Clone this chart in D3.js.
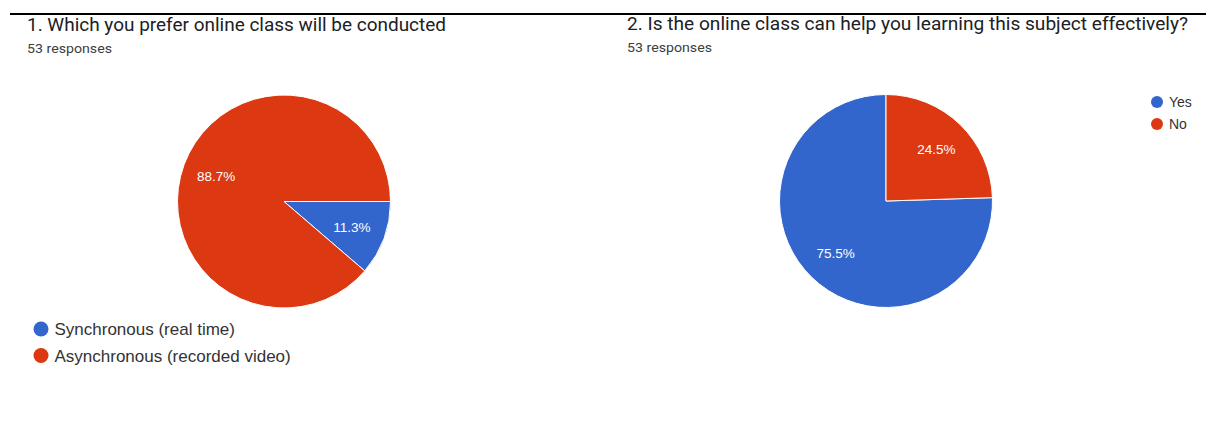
<!DOCTYPE html>
<html>
<head>
<meta charset="utf-8">
<script src="https://cdn.jsdelivr.net/npm/d3@7"></script>
<style>
  html, body { margin: 0; padding: 0; background: #fff; }
  svg { display: block; }
</style>
</head>
<body>
<svg id="chart" width="1206" height="426"></svg>
<script>
// Survey results: two questions, 53 responses each
const q1Title = "1. Which you prefer online class will be conducted";
const q1Categories = ["Synchronous (real time)", "Asynchronous (recorded video)"];
const q1Values = [11.3, 88.7];

const q2Title = "2. Is the online class can help you learning this subject effectively?";
const q2Categories = ["Yes", "No"];
const q2Values = [75.5, 24.5];

const responseCounts = [53, 53];
const sliceColors = ["#3366cc", "#dc3912"];

const svg = d3.select("#chart");

// top rule
svg.append("rect").attr("x", 10).attr("y", 13).attr("width", 1196).attr("height", 2).attr("fill", "#000");

function header(x, yTitle, title, titleWidth, count) {
  svg.append("text")
    .attr("x", x).attr("y", yTitle)
    .attr("font-family", "Roboto, 'Open Sans', sans-serif")
    .attr("font-size", 17.5)
    .attr("fill", "#202124")
    .attr("textLength", titleWidth)
    .attr("lengthAdjust", "spacingAndGlyphs")
    .text(title);
  svg.append("text")
    .attr("x", x).attr("y", yTitle + 22)
    .attr("font-family", "Roboto, sans-serif")
    .attr("font-size", 13.5)
    .attr("fill", "#3c4043")
    .attr("textLength", 85)
    .attr("lengthAdjust", "spacingAndGlyphs")
    .text(count + " responses");
}

function pieChart(cx, cy, r, values, startFrac) {
  const start = startFrac * 2 * Math.PI;
  const pie = d3.pie().sort(null).value(d => d)
    .startAngle(start).endAngle(start + 2 * Math.PI);
  const arcs = pie(values);
  const arc = d3.arc().innerRadius(0).outerRadius(r);
  const labelArc = d3.arc().innerRadius(r * 0.68).outerRadius(r * 0.68);
  const g = svg.append("g").attr("transform", `translate(${cx},${cy})`);
  g.selectAll("path").data(arcs).join("path")
    .attr("d", arc)
    .attr("fill", (d, i) => sliceColors[i])
    .attr("stroke", "#fff")
    .attr("stroke-width", 1);
  g.selectAll("text").data(arcs).join("text")
    .attr("transform", d => `translate(${labelArc.centroid(d)})`)
    .attr("text-anchor", "middle")
    .attr("dy", "0.36em")
    .attr("font-family", "'Liberation Sans', Arial, sans-serif")
    .attr("font-size", 13.5)
    .attr("fill", "#fff")
    .text(d => d.data.toFixed(1) + "%");
}

function legend(x, y, step, radius, fontSize, categories) {
  const g = svg.append("g");
  categories.forEach((c, i) => {
    g.append("circle")
      .attr("cx", x).attr("cy", y + i * step).attr("r", radius)
      .attr("fill", sliceColors[i]);
    g.append("text")
      .attr("x", x + radius + 6).attr("y", y + i * step)
      .attr("dy", "0.36em")
      .attr("font-family", "'Liberation Sans', Arial, sans-serif")
      .attr("font-size", fontSize)
      .attr("fill", "#333")
      .text(c);
  });
}

// Question 1
header(27, 31, q1Title, 419, responseCounts[0]);
pieChart(284, 201.5, 106.5, q1Values, 0.25);
legend(41, 329, 26.5, 7.5, 17, q1Categories);

// Question 2
header(627, 30, q2Title, 561, responseCounts[1]);
pieChart(886, 201, 106.5, q2Values, q2Values[1] / 100);
legend(1157, 102, 22, 6, 14, q2Categories);
</script>
</body>
</html>
